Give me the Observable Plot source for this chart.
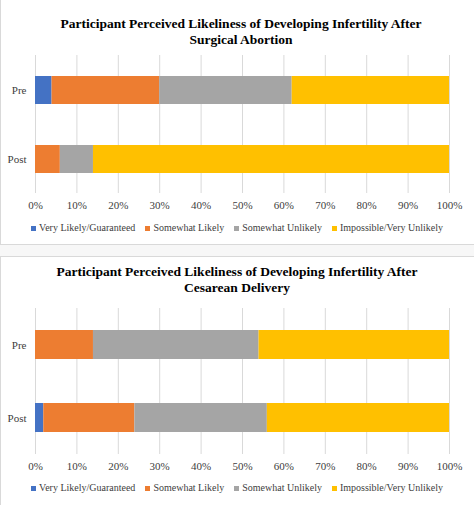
<!DOCTYPE html>
<html>
<head>
<meta charset="utf-8">
<script src="https://cdn.jsdelivr.net/npm/d3@7"></script>
<script src="https://cdn.jsdelivr.net/npm/@observablehq/plot@0.6"></script>
<style>
  html, body { margin: 0; padding: 0; background: #f7f7f7; }
  #page { position: relative; width: 474px; height: 505px; overflow: hidden; font-family: "Liberation Serif", "Times New Roman", serif; }
  .box { position: absolute; left: 0; width: 474px; background: #fff; border: 1px solid #d9d9d9; }
  .title { position: absolute; left: 0; width: 474px; text-align: center; font-weight: bold; font-size: 13.5px; line-height: 16px; color: #000; }
  .chart { position: absolute; left: 0; }
  .legend { position: absolute; left: 0; width: 474px; display: flex; justify-content: center; font-size: 10px; color: #404040; line-height: 12px; }
  .legend .item { display: flex; align-items: center; margin: 0 5px; }
  .legend .sw { width: 5px; height: 5px; margin-right: 3px; }
</style>
</head>
<body>
<div id="page"></div>
<script>
const categories = ["Very Likely/Guaranteed", "Somewhat Likely", "Somewhat Unlikely", "Impossible/Very Unlikely"];
const groups = ["Pre", "Post"];
const abortionPre = [4, 26, 32, 38];
const abortionPost = [0, 6, 8, 86];
const cesareanPre = [0, 14, 40, 46];
const cesareanPost = [2, 22, 32, 44];
const xTicks = [0, 10, 20, 30, 40, 50, 60, 70, 80, 90, 100];
const colors = ["#4472C4", "#ED7D31", "#A5A5A5", "#FFC000"];
const titleAbortion = ["Participant Perceived Likeliness of Developing Infertility After", "Surgical Abortion"];
const titleCesarean = ["Participant Perceived Likeliness of Developing Infertility After", "Cesarean Delivery"];

function makeRows(pre, post) {
  const rows = [];
  [pre, post].forEach((vals, gi) => {
    vals.forEach((v, ci) => {
      if (v > 0) rows.push({group: groups[gi], category: categories[ci], value: v});
    });
  });
  return rows;
}

function drawChart(cfg) {
  const page = document.getElementById("page");
  const box = document.createElement("div");
  box.className = "box";
  box.style.top = cfg.boxTop + "px";
  box.style.height = cfg.boxHeight + "px";
  page.appendChild(box);

  const title = document.createElement("div");
  title.className = "title";
  title.style.top = cfg.titleTop + "px";
  title.style.paddingLeft = cfg.titleShift + "px";
  title.style.boxSizing = "border-box";
  title.innerHTML = cfg.title.join("<br>");
  page.appendChild(title);

  const rows = makeRows(cfg.pre, cfg.post);
  const plot = Plot.plot({
    width: 474,
    height: cfg.height,
    marginLeft: 35,
    marginRight: 25,
    marginTop: 10,
    marginBottom: cfg.marginBottom,
    style: {fontFamily: "'Liberation Serif', 'Times New Roman', serif", fontSize: "11px", color: "#404040", background: "transparent"},
    x: {domain: [0, 100], ticks: xTicks, tickFormat: d => d + "%", tickSize: 0, tickPadding: 8, label: null},
    y: {domain: groups, paddingInner: cfg.paddingInner, paddingOuter: cfg.paddingOuter, tickSize: 0, tickPadding: 9, label: null},
    color: {domain: categories, range: colors},
    marks: [
      Plot.gridX(xTicks, {stroke: "#d9d9d9", strokeOpacity: 1}),
      Plot.barX(rows, {x: "value", y: "group", fill: "category", order: categories})
    ]
  });
  plot.classList.add("chart");
  plot.style.top = cfg.svgTop + "px";
  page.appendChild(plot);

  const legend = document.createElement("div");
  legend.className = "legend";
  legend.style.top = cfg.legendTop + "px";
  categories.forEach((c, i) => {
    const item = document.createElement("div");
    item.className = "item";
    const sw = document.createElement("span");
    sw.className = "sw";
    sw.style.background = colors[i];
    const t = document.createElement("span");
    t.textContent = c;
    item.appendChild(sw);
    item.appendChild(t);
    legend.appendChild(item);
  });
  page.appendChild(legend);
}

drawChart({
  boxTop: -2, boxHeight: 245, titleTop: 16, titleShift: 8, title: titleAbortion,
  pre: abortionPre, post: abortionPost,
  svgTop: 45, height: 173, marginBottom: 25, paddingInner: 0.6, paddingOuter: 0.286,
  legendTop: 222
});
drawChart({
  boxTop: 256, boxHeight: 252, titleTop: 264, titleShift: 0, title: titleCesarean,
  pre: cesareanPre, post: cesareanPost,
  svgTop: 298, height: 181, marginBottom: 25, paddingInner: 0.603, paddingOuter: 0.3015,
  legendTop: 482
});
</script>
</body>
</html>
